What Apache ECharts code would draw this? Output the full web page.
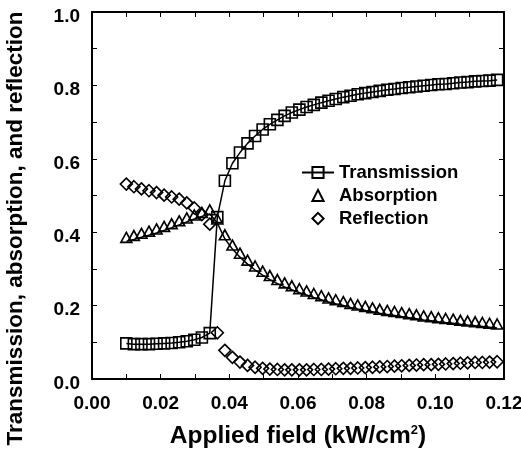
<!DOCTYPE html>
<html>
<head>
<meta charset="utf-8">
<script src="https://cdn.jsdelivr.net/npm/echarts@6/dist/echarts.min.js"></script>
<style>
  html, body { margin: 0; padding: 0; background: #fff; }
  #container { width: 521px; height: 450px; }
</style>
</head>
<body>
<div id="container"></div>
<script>
// applied field, kW/cm2
var fieldX = [
  0.0100, 0.0122, 0.0144, 0.0166, 0.0188, 0.0210, 0.0232, 0.0254, 0.0276, 0.0298, 0.0320, 0.0343,
  0.0365, 0.0387, 0.0409, 0.0431, 0.0453, 0.0475,
  0.0497, 0.0518, 0.0540, 0.0561, 0.0582, 0.0604, 0.0625, 0.0646, 0.0668, 0.0689, 0.0710,
  0.0732, 0.0753, 0.0774, 0.0796, 0.0817, 0.0838, 0.0860, 0.0881, 0.0902, 0.0924, 0.0945,
  0.0966, 0.0988, 0.1009, 0.1030, 0.1052, 0.1073, 0.1094, 0.1116, 0.1137, 0.1158, 0.1180
];
var transmission = [
  0.097, 0.095, 0.095, 0.095, 0.096, 0.097, 0.098, 0.100, 0.103, 0.107, 0.113, 0.125,
  0.441, 0.540, 0.588, 0.617, 0.642, 0.662,
  0.680, 0.694, 0.706, 0.717, 0.726, 0.734, 0.741, 0.747, 0.753, 0.758, 0.763,
  0.768, 0.772, 0.776, 0.779, 0.782, 0.785, 0.788, 0.790, 0.793, 0.795, 0.797,
  0.799, 0.801, 0.803, 0.804, 0.806, 0.808, 0.809, 0.811, 0.812, 0.813, 0.815
];
var absorption = [
  0.375, 0.380, 0.386, 0.392, 0.398, 0.405, 0.412, 0.420, 0.428, 0.436, 0.443, 0.450,
  0.425, 0.382, 0.354, 0.332, 0.313, 0.297,
  0.283, 0.271, 0.260, 0.251, 0.243, 0.235, 0.229, 0.222, 0.216, 0.210, 0.205,
  0.200, 0.195, 0.191, 0.187, 0.183, 0.179, 0.176, 0.173, 0.170, 0.167, 0.164,
  0.161, 0.159, 0.156, 0.154, 0.152, 0.149, 0.147, 0.145, 0.143, 0.141, 0.139
];
var reflection = [
  0.531, 0.524, 0.518, 0.513, 0.508, 0.501, 0.496, 0.490, 0.480, 0.466, 0.448, 0.422,
  0.126, 0.078, 0.059, 0.046, 0.037, 0.032,
  0.029, 0.027, 0.026, 0.025, 0.025, 0.025, 0.025, 0.026, 0.026, 0.027, 0.028,
  0.029, 0.029, 0.030, 0.031, 0.032, 0.033, 0.034, 0.035, 0.036, 0.037, 0.038,
  0.039, 0.039, 0.040, 0.041, 0.042, 0.043, 0.044, 0.045, 0.045, 0.046, 0.047
];
var legendNames = ['Transmission', 'Absorption', 'Reflection'];

var font = 'Liberation Sans, Arial, Helvetica, sans-serif';

function pairs(xs, ys) {
  return xs.map(function (x, i) { return [x, ys[i]]; });
}

var dom = document.getElementById('container');
var myChart = echarts.init(dom, null, { renderer: 'canvas' });

var markerStyle = {
  color: 'transparent',
  borderColor: '#000',
  borderWidth: 1.6
};

var frameAxis = {
  axisLine: { show: true, onZero: false, lineStyle: { color: '#000', width: 2 } },
  axisTick: { show: true, inside: true, length: 5, lineStyle: { color: '#000', width: 1 } },
  minorTick: { show: true, splitNumber: 2, length: 5, lineStyle: { color: '#000', width: 1 } },
  splitLine: { show: false }
};

var option = {
  animation: false,
  backgroundColor: '#fff',
  grid: { left: 92, right: 17, top: 12, bottom: 71, outerBoundsMode: 'none' },
  legend: {
    data: legendNames,
    orient: 'vertical',
    left: 301,
    top: 163,
    padding: 0,
    itemWidth: 32,
    itemHeight: 14,
    itemGap: 4,
    textStyle: { fontFamily: font, fontSize: 18.5, fontWeight: 'bold', color: '#000' }
  },
  xAxis: [
    Object.assign({
      type: 'value',
      min: 0,
      max: 0.12,
      interval: 0.02,
      name: 'Applied field (kW/cm{sup|2})',
      nameLocation: 'middle',
      nameGap: 45,
      nameTextStyle: {
        fontFamily: font, fontSize: 24.5, fontWeight: 'bold', color: '#000',
        rich: { sup: { fontFamily: font, fontSize: 13, fontWeight: 'bold', color: '#000', verticalAlign: 'top' } }
      },
      axisLabel: {
        margin: 15,
        fontFamily: font, fontSize: 19, fontWeight: 'bold', color: '#000',
        formatter: function (v) { return v.toFixed(2); }
      }
    }, frameAxis),
    Object.assign({
      type: 'value', position: 'top', min: 0, max: 0.12, interval: 0.02,
      axisLabel: { show: false }
    }, frameAxis)
  ],
  yAxis: [
    Object.assign({
      type: 'value',
      min: 0,
      max: 1,
      interval: 0.2,
      name: 'Transmission, absorption, and reflection',
      nameLocation: 'middle',
      nameGap: 65,
      nameTextStyle: { fontFamily: font, fontSize: 22.5, fontWeight: 'bold', color: '#000', padding: [0, 66, 0, 0] },
      axisLabel: {
        margin: 12,
        fontFamily: font, fontSize: 19, fontWeight: 'bold', color: '#000',
        verticalAlign: 'top',
        lineHeight: 9,
        formatter: function (v) { return v.toFixed(1); }
      }
    }, frameAxis),
    Object.assign({
      type: 'value', position: 'right', min: 0, max: 1, interval: 0.2,
      axisLabel: { show: false }
    }, frameAxis)
  ],
  series: [
    {
      name: 'Transmission',
      type: 'line',
      data: pairs(fieldX, transmission),
      symbol: 'rect',
      symbolSize: 11,
      itemStyle: markerStyle,
      lineStyle: { color: '#000', width: 1.5 },
      z: 3
    },
    {
      name: 'Absorption fit',
      type: 'line',
      data: pairs(fieldX, absorption),
      showSymbol: false,
      lineStyle: { color: '#000', width: 1.5 },
      z: 2
    },
    {
      name: 'Absorption',
      type: 'line',
      data: pairs(fieldX, absorption),
      symbol: 'triangle',
      symbolSize: [11, 10],
      symbolOffset: [0, -4],
      itemStyle: markerStyle,
      lineStyle: { color: '#000', opacity: 0 },
      z: 3
    },
    {
      name: 'Reflection',
      type: 'line',
      data: pairs(fieldX, reflection),
      symbol: 'diamond',
      symbolSize: 12,
      itemStyle: markerStyle,
      lineStyle: { color: '#000', opacity: 0 },
      z: 3
    }
  ]
};

if (option && typeof option === 'object') {
  myChart.setOption(option);
}
</script>
</body>
</html>
